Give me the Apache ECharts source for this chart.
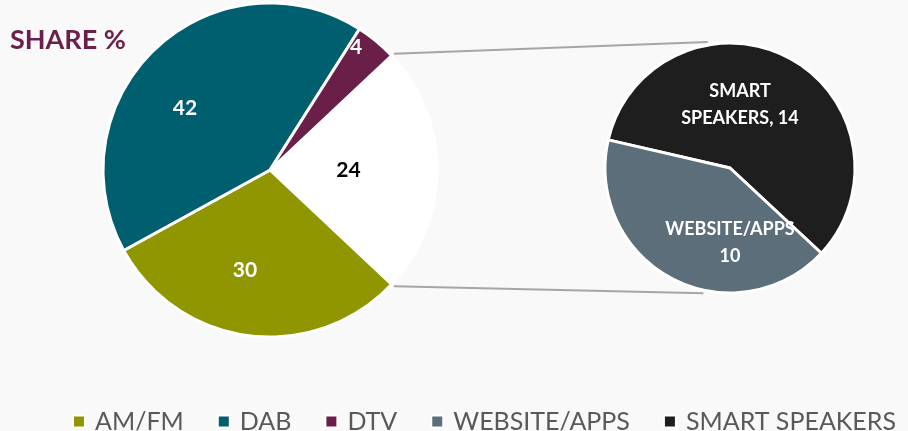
<!DOCTYPE html>
<html>
<head>
<meta charset="utf-8">
<script src="https://cdn.jsdelivr.net/npm/echarts@6/dist/echarts.min.js"></script>
<style>
  html, body { margin: 0; padding: 0; background: #f9f9f9; }
  #chart { width: 908px; height: 431px; }
</style>
</head>
<body>
<div id="chart"></div>
<script>
// main pie: 'Other' is split out into the small pie
const mainNames = ['OTHER', 'AM/FM', 'DAB', 'DTV']
const mainValues = [24, 30, 42, 4]
const mainColors = ['#ffffff', '#8f9600', '#005f6e', '#6a1f48']

// small pie (breakdown of OTHER)
const subNames = ['SMART SPEAKERS', 'WEBSITE/APPS']
const subValues = [14, 10]
const subColors = ['#1e1e1e', '#5b6e7a']

const legendOrder = ['AM/FM', 'DAB', 'DTV', 'WEBSITE/APPS', 'SMART SPEAKERS']

// geometry
const leftC = [270, 170], leftR = 167
const rightC = [730, 168], rightR = 125
const total = mainValues.reduce((a, b) => a + b, 0)
const otherHalf = mainValues[0] / total * 180   // half of the split slice's angle
const subStart = 167

// label spots: [angle deg, fraction of radius]
const labelSpots = [
  [[0, 0.47], [-104, 0.62], [144, 0.63], [55, 0.9]],
  [[81, 0.51], [-90, 0.6]]
]

function polar(c, r, deg) {
  const a = deg * Math.PI / 180
  return [c[0] + r * Math.cos(a), c[1] - r * Math.sin(a)]
}

const chart = echarts.init(document.getElementById('chart'), null, { renderer: 'canvas' })

const p1 = polar(leftC, leftR + 3, otherHalf)
const p2 = polar(leftC, leftR + 3, -otherHalf)
const q1 = polar(rightC, rightR + 3, 100)
const q2 = polar(rightC, rightR + 3, -102)

const labelFont = { fontFamily: 'Lato', fontWeight: 'bold' }

const option = {
  backgroundColor: '#f9f9f9',
  animation: false,
  title: {
    text: 'SHARE %',
    left: 5, top: 22,
    textStyle: { fontFamily: 'Lato', fontWeight: 'bold', fontSize: 27, color: '#6b1f4b' }
  },
  legend: {
    data: legendOrder,
    left: 72, top: 409,
    width: 836,
    padding: 0,
    icon: 'rect',
    itemWidth: 12, itemHeight: 12,
    itemGap: 33,
    selectedMode: false,
    textStyle: { fontFamily: 'Lato', fontSize: 25, color: '#595959', padding: [0, 0, 0, 5] }
  },
  graphic: [
    { type: 'line', shape: { x1: p1[0], y1: p1[1], x2: q1[0], y2: q1[1] },
      style: { stroke: '#a6a6a6', lineWidth: 2 }, z: 0 },
    { type: 'line', shape: { x1: p2[0], y1: p2[1], x2: q2[0], y2: q2[1] },
      style: { stroke: '#a6a6a6', lineWidth: 2 }, z: 0 }
  ],
  series: [
    {
      type: 'pie',
      center: leftC,
      radius: leftR,
      startAngle: otherHalf,
      clockwise: true,
      silent: true,
      itemStyle: { borderColor: '#ffffff', borderWidth: 3 },
      label: Object.assign({ show: true, position: 'inside', fontSize: 21, color: '#ffffff', formatter: '{c}' }, labelFont),
      labelLine: { show: false },
      labelLayout: function (params) {
        const s = labelSpots[0][params.dataIndex]
        const p = polar(leftC, leftR * s[1], s[0])
        return { x: p[0], y: p[1], align: 'center', verticalAlign: 'middle' }
      },
      data: mainNames.map((n, i) => ({
        name: n, value: mainValues[i],
        itemStyle: { color: mainColors[i] },
        label: i === 0 ? { color: '#000000' } : {}
      }))
    },
    {
      type: 'pie',
      center: rightC,
      radius: rightR,
      startAngle: subStart,
      clockwise: true,
      silent: true,
      itemStyle: { borderColor: '#ffffff', borderWidth: 3 },
      label: Object.assign({ show: true, position: 'inside', fontSize: 18, lineHeight: 27, color: '#ffffff', align: 'center' }, labelFont),
      labelLine: { show: false },
      labelLayout: function (params) {
        const s = labelSpots[1][params.dataIndex]
        const p = polar(rightC, rightR * s[1], s[0])
        return { x: p[0], y: p[1], align: 'center', verticalAlign: 'middle' }
      },
      data: subNames.map((n, i) => ({
        name: n, value: subValues[i],
        itemStyle: { color: subColors[i] },
        label: { formatter: i === 0 ? 'SMART\nSPEAKERS, {c}' : '{b}\n{c}' }
      }))
    }
  ]
}

chart.setOption(option)
</script>
</body>
</html>
